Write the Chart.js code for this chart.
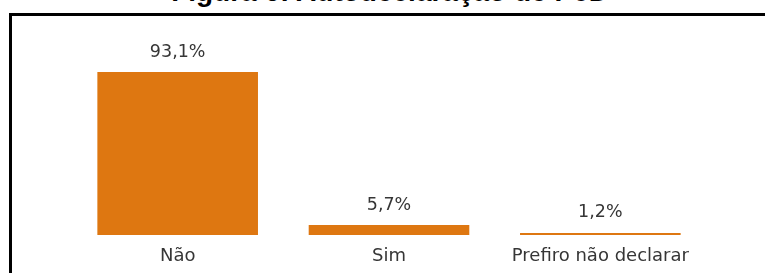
<!DOCTYPE html>
<html>
<head>
<meta charset="utf-8">
<script src="https://cdn.jsdelivr.net/npm/chart.js@4"></script>
<style>
  html, body { margin:0; padding:0; background:#fff; width:765px; height:273px; overflow:hidden; }
  #title { position:absolute; left:0; width:780px; top:-22px; text-align:center; font-family:"Liberation Sans", Arial, sans-serif; font-weight:bold; font-size:28px; line-height:1; color:#000; white-space:nowrap; }
  #frame { position:absolute; left:9px; top:13px; width:800px; height:300px; border-left:3px solid #000; border-top:3px solid #000; }
  #wrap { position:absolute; left:0; top:0; width:765px; height:273px; }
</style>
</head>
<body>
<div id="title">Figura 6: Autodeclaração de PcD</div>
<div id="frame"></div>
<div id="wrap"><canvas id="c" width="765" height="273"></canvas></div>
<script>
const categories = ["Não", "Sim", "Prefiro não declarar"];
const values = [93.1, 5.7, 1.2];
const valueLabels = ["93,1%", "5,7%", "1,2%"];

const valueLabelPlugin = {
  id: 'valueLabels',
  afterDatasetsDraw(chart) {
    const ctx = chart.ctx;
    const meta = chart.getDatasetMeta(0);
    ctx.save();
    ctx.font = '17.5px "DejaVu Sans", sans-serif';
    ctx.fillStyle = '#363636';
    ctx.textAlign = 'center';
    ctx.textBaseline = 'middle';
    meta.data.forEach((bar, i) => {
      ctx.fillText(valueLabels[i], bar.x, bar.y - 20);
    });
    ctx.restore();
  }
};

new Chart(document.getElementById('c'), {
  type: 'bar',
  data: {
    labels: categories,
    datasets: [{
      data: values,
      backgroundColor: '#DE7711',
      borderWidth: 0,
      categoryPercentage: 1.0,
      barPercentage: 0.76
    }]
  },
  options: {
    responsive: false,
    animation: false,
    devicePixelRatio: 1,
    layout: { padding: { left: 72, right: 59, top: 60, bottom: 0 } },
    plugins: { legend: { display: false }, tooltip: { enabled: false } },
    scales: {
      x: {
        grid: { display: false, drawTicks: false },
        border: { display: false },
        ticks: { color: '#363636', font: { family: '"DejaVu Sans", sans-serif', size: 18 }, padding: 11, maxRotation: 0 },
        afterFit(scale) { scale.height = 38; }
      },
      y: { display: false, min: 0, max: 100 }
    }
  },
  plugins: [valueLabelPlugin]
});
</script>
</body>
</html>
